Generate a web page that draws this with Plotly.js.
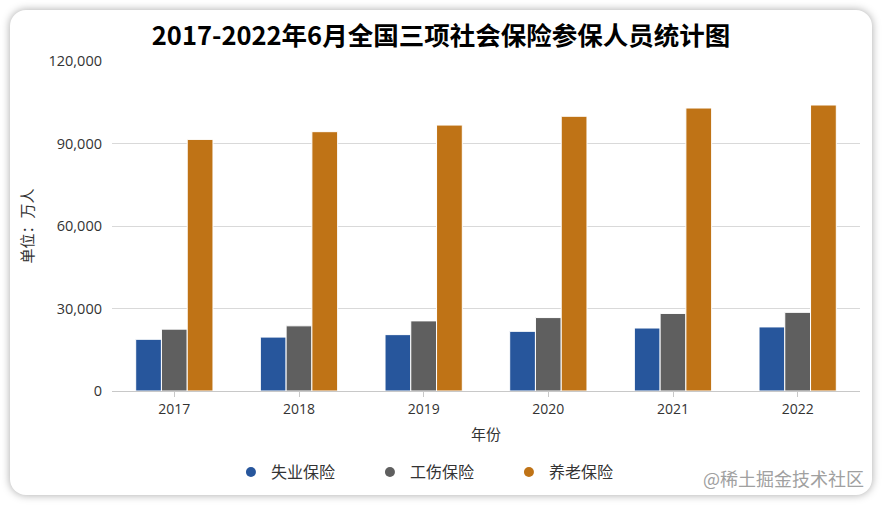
<!DOCTYPE html>
<html>
<head>
<meta charset="utf-8">
<script src="https://cdn.plot.ly/plotly-3.0.1.min.js"></script>
<style>
  html, body { margin: 0; padding: 0; background: #ffffff; width: 882px; height: 505px; overflow: hidden; }
  #card { position: absolute; left: 10px; top: 10px; width: 862px; height: 485px; background: #fff;
          border-radius: 16px; box-shadow: 0 0 9px rgba(0,0,0,0.35); }
  #chart { position: absolute; left: 0; top: 0; width: 882px; height: 505px; }
</style>
</head>
<body>
<div id="card"></div>
<div id="chart"></div>
<script>
const years = ['2017', '2018', '2019', '2020', '2021', '2022'];
const seriesNames = ['失业保险', '工伤保险', '养老保险'];
const unemployment = [18800, 19600, 20500, 21700, 22900, 23300];
const injury = [22500, 23700, 25500, 26700, 28200, 28600];
const pension = [91500, 94300, 96700, 99900, 102900, 104000];
const colors = ['#27569C', '#5F5F5F', '#BF7316'];
const yTicks = [0, 30000, 60000, 90000, 120000];

const FONT = '"Open Sans", "Noto Sans CJK SC", sans-serif';
const values = [unemployment, injury, pension];

const traces = [];
values.forEach((v, i) => {
  traces.push({
    type: 'bar', x: years, y: v, name: seriesNames[i], showlegend: false,
    marker: { color: colors[i], line: { color: '#ffffff', width: 1 } },
    hoverinfo: 'skip'
  });
});
values.forEach((v, i) => {
  traces.push({
    type: 'scatter', mode: 'markers', x: [null], y: [null], name: seriesNames[i],
    marker: { color: colors[i], size: 10, symbol: 'circle' }, hoverinfo: 'skip'
  });
});

const layout = {
  width: 882, height: 505,
  paper_bgcolor: 'rgba(0,0,0,0)', plot_bgcolor: 'rgba(0,0,0,0)',
  margin: { l: 112, r: 22, t: 61, b: 114 },
  font: { family: FONT, color: '#333333', size: 14 },
  title: {
    text: '<b>2017-2022年6月全国三项社会保险参保人员统计图</b>',
    font: { family: '"Noto Sans CJK SC", sans-serif', size: 25.5, color: '#000000' },
    x: 0.5, xanchor: 'center', xref: 'container',
    y: 1 - 36 / 505, yanchor: 'middle', yref: 'container'
  },
  barmode: 'group', bargap: 0.38, bargroupgap: 0,
  xaxis: {
    type: 'category', tickvals: years, ticktext: years,
    showline: true, linecolor: '#c8c8c8', linewidth: 1,
    ticks: 'outside', ticklen: 5, tickcolor: '#c8c8c8',
    tickfont: { size: 14, color: '#333333' },
    title: { text: '年份', font: { size: 15, color: '#333333' }, standoff: 12 },
    showgrid: false, zeroline: false
  },
  yaxis: {
    range: [0, 120000], tickvals: yTicks, ticktext: yTicks.map(t => t.toLocaleString('en-US')),
    showgrid: true, gridcolor: '#d9d9d9', gridwidth: 1,
    zeroline: false, showline: false, ticks: '', ticklabelstandoff: 9,
    tickfont: { size: 14.5, color: '#333333' },
    title: { text: '单位：万人', font: { size: 15, color: '#333333' }, standoff: 11 }
  },
  legend: {
    orientation: 'h', x: 0.159, xanchor: 'left', y: -0.246, yanchor: 'middle',
    font: { size: 16, color: '#333333', family: FONT },
    entrywidth: 94, entrywidthmode: 'pixels', itemclick: false, itemdoubleclick: false
  },
  annotations: [{
    text: '@稀土掘金技术社区', xref: 'paper', yref: 'paper', x: 1.0075, xanchor: 'right',
    y: (505 - 114 - 478) / 330, yanchor: 'middle', showarrow: false,
    font: { size: 18, color: '#a0a0a0', family: '"Noto Sans CJK SC", sans-serif' }
  }],
  hovermode: false
};

Plotly.newPlot('chart', traces, layout, { displayModeBar: false, staticPlot: true });
</script>
</body>
</html>
